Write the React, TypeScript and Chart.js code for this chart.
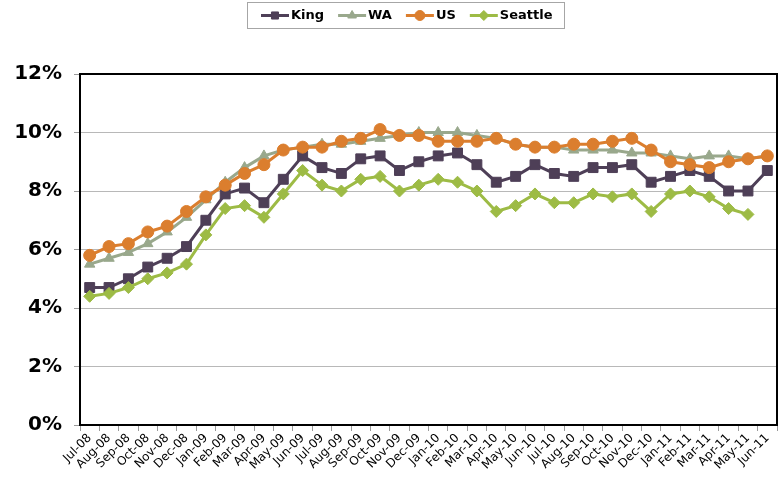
import React, { useEffect, useRef } from 'react';
import { Chart, registerables } from 'chart.js';
import { drawPoint } from 'chart.js/helpers';

Chart.register(...registerables);

const months = [
  'Jul-08', 'Aug-08', 'Sep-08', 'Oct-08', 'Nov-08', 'Dec-08',
  'Jan-09', 'Feb-09', 'Mar-09', 'Apr-09', 'May-09', 'Jun-09',
  'Jul-09', 'Aug-09', 'Sep-09', 'Oct-09', 'Nov-09', 'Dec-09',
  'Jan-10', 'Feb-10', 'Mar-10', 'Apr-10', 'May-10', 'Jun-10',
  'Jul-10', 'Aug-10', 'Sep-10', 'Oct-10', 'Nov-10', 'Dec-10',
  'Jan-11', 'Feb-11', 'Mar-11', 'Apr-11', 'May-11', 'Jun-11',
];

const king = [4.7, 4.7, 5.0, 5.4, 5.7, 6.1, 7.0, 7.9, 8.1, 7.6, 8.4, 9.2, 8.8, 8.6, 9.1, 9.2, 8.7, 9.0, 9.2, 9.3, 8.9, 8.3, 8.5, 8.9, 8.6, 8.5, 8.8, 8.8, 8.9, 8.3, 8.5, 8.7, 8.5, 8.0, 8.0, 8.7];
const wa = [5.5, 5.7, 5.9, 6.2, 6.6, 7.1, 7.7, 8.3, 8.8, 9.2, 9.4, 9.5, 9.6, 9.6, 9.7, 9.8, 9.9, 10.0, 10.0, 10.0, 9.9, 9.8, 9.6, 9.5, 9.5, 9.4, 9.4, 9.4, 9.3, 9.3, 9.2, 9.1, 9.2, 9.2, 9.1, 9.2];
const us = [5.8, 6.1, 6.2, 6.6, 6.8, 7.3, 7.8, 8.2, 8.6, 8.9, 9.4, 9.5, 9.5, 9.7, 9.8, 10.1, 9.9, 9.9, 9.7, 9.7, 9.7, 9.8, 9.6, 9.5, 9.5, 9.6, 9.6, 9.7, 9.8, 9.4, 9.0, 8.9, 8.8, 9.0, 9.1, 9.2];
const seattle = [4.4, 4.5, 4.7, 5.0, 5.2, 5.5, 6.5, 7.4, 7.5, 7.1, 7.9, 8.7, 8.2, 8.0, 8.4, 8.5, 8.0, 8.2, 8.4, 8.3, 8.0, 7.3, 7.5, 7.9, 7.6, 7.6, 7.9, 7.8, 7.9, 7.3, 7.9, 8.0, 7.8, 7.4, 7.2, null];

const seriesNames = ['King', 'WA', 'US', 'Seattle'];
const seriesColors = ['#4E3F57', '#99A88C', '#DB7E2E', '#9DBB45'];
const seriesStyles = ['rect', 'triangle', 'circle', 'rectRot'];
const seriesRadius = [7, 6, 6, 6];
const yTicks = [0, 2, 4, 6, 8, 10, 12];

const FONT = '"DejaVu Sans", Verdana, sans-serif';

const framePlugin = {
  id: 'frame',
  beforeDatasetsDraw(chart: any) {
    const { ctx, chartArea } = chart;
    ctx.save();
    ctx.strokeStyle = '#000';
    ctx.lineWidth = 2;
    ctx.strokeRect(chartArea.left, chartArea.top, chartArea.right - chartArea.left, chartArea.bottom - chartArea.top);
    ctx.restore();
  },
};

const legendPlugin = {
  id: 'boxLegend',
  afterDraw(chart: any) {
    const ctx = chart.ctx;
    ctx.save();
    ctx.font = `bold 13px ${FONT}`;
    const lineW = 28;
    const gap = 2;
    const itemGap = 14;
    const items = chart.data.datasets.map((ds: any, i: number) => ({ ds, i, tw: ctx.measureText(ds.label).width }));
    const total = items.reduce((s: number, it: any) => s + lineW + gap + it.tw, 0) + itemGap * (items.length - 1);
    let x = Math.round(406.5 - total / 2);
    const cy = 15.5;
    ctx.strokeStyle = '#A6A6A6';
    ctx.lineWidth = 1;
    ctx.strokeRect(x - 14 + 0.5, 2.5, Math.round(total + 26), 26);
    items.forEach((it: any) => {
      const color = seriesColors[it.i];
      ctx.strokeStyle = color;
      ctx.fillStyle = color;
      ctx.lineWidth = 3;
      ctx.beginPath();
      ctx.moveTo(x, cy);
      ctx.lineTo(x + lineW, cy);
      ctx.stroke();
      ctx.lineWidth = 1;
      drawPoint(ctx, { pointStyle: seriesStyles[it.i], radius: 5, rotation: 0, borderWidth: 1 } as any, x + lineW / 2, cy);
      ctx.fillStyle = '#000';
      ctx.textBaseline = 'middle';
      ctx.textAlign = 'left';
      ctx.fillText(it.ds.label, x + lineW + gap, cy + 0.5);
      x += lineW + gap + it.tw + itemGap;
    });
    ctx.restore();
  },
};

export default function App() {
  const ref = useRef<HTMLCanvasElement | null>(null);

  useEffect(() => {
    if (!ref.current) return;
    Chart.defaults.font.family = FONT;
    const values = [king, wa, us, seattle];
    const chart = new Chart(ref.current, {
      type: 'line',
      data: {
        labels: months,
        datasets: values.map((v, i) => ({
          label: seriesNames[i],
          data: v,
          borderColor: seriesColors[i],
          backgroundColor: seriesColors[i],
          pointBackgroundColor: seriesColors[i],
          pointBorderColor: seriesColors[i],
          pointStyle: seriesStyles[i] as any,
          pointRadius: seriesRadius[i],
          pointBorderWidth: 1,
          borderWidth: 3,
          tension: 0,
          fill: false,
          spanGaps: false,
          order: 3 - i,
        })),
      },
      options: {
        responsive: false,
        animation: false,
        layout: { autoPadding: false, padding: { top: 74, right: 2, left: 0, bottom: 0 } },
        plugins: {
          legend: { display: false },
          tooltip: { enabled: false },
        },
        scales: {
          x: {
            offset: true,
            grid: {
              display: true,
              drawOnChartArea: false,
              offset: true,
              tickLength: 6,
              tickColor: '#9A9A9A',
              tickWidth: 1,
            },
            border: { display: true, color: '#000', width: 2 },
            ticks: {
              autoSkip: false,
              maxRotation: 45,
              minRotation: 45,
              padding: 0,
              color: '#000',
              font: { family: FONT, size: 12 },
            },
            afterFit: (s: any) => { s.height = 68; s.paddingRight = 0; s.paddingLeft = 0; },
          },
          y: {
            min: 0,
            max: 12,
            afterBuildTicks: (s: any) => { s.ticks = yTicks.map((v) => ({ value: v })); },
            ticks: {
              callback: (v: any) => `${v}%`,
              padding: 12,
              color: '#000',
              font: { family: FONT, size: 20, weight: 'bold' },
            },
            grid: {
              color: '#B8B8B8',
              lineWidth: 1,
              tickLength: 6,
              tickColor: '#9A9A9A',
              drawTicks: true,
            },
            border: { display: true, color: '#000', width: 2 },
            afterFit: (s: any) => { s.width = 80; },
          },
        },
      },
      plugins: [framePlugin, legendPlugin],
    });
    return () => chart.destroy();
  }, []);

  return (
    <div style={{ position: 'absolute', left: 0, top: 0, width: 779, height: 493, background: '#fff' }}>
      <canvas ref={ref} width={779} height={493} style={{ display: 'block' }} />
    </div>
  );
}
